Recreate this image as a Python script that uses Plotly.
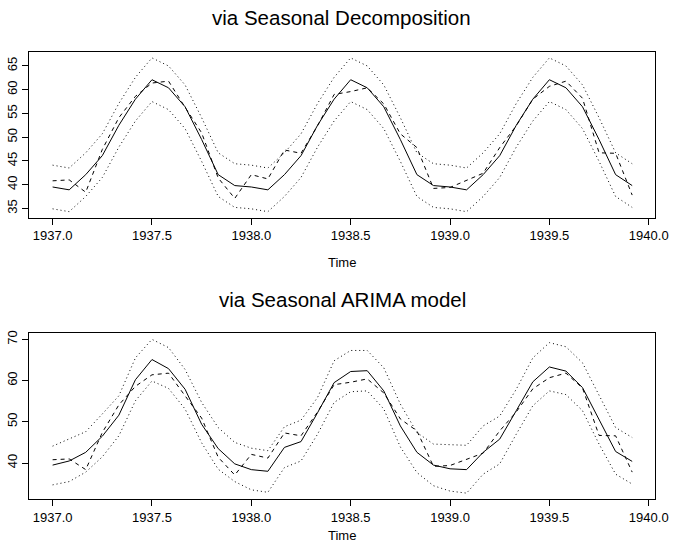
import plotly.graph_objects as go

years = [1937, 1938, 1939]
months = list(range(12))
time = [y + m / 12 for y in years for m in months]

# observed nottem temperatures 1937-1939 (dashed)
observed = [40.8, 41.0, 38.4, 47.4, 54.1, 58.6, 61.4, 61.8, 56.3, 50.9, 41.4, 37.1,
            42.1, 41.2, 47.3, 46.6, 52.4, 59.0, 59.6, 60.4, 57.0, 50.7, 47.8, 39.2,
            39.4, 40.9, 42.4, 47.8, 52.4, 58.0, 60.7, 61.8, 58.2, 46.7, 46.6, 37.8]

# forecast via seasonal decomposition
decomp_fit = [39.5, 38.9, 42.1, 46.1, 52.5, 58.0, 62.1, 60.4, 56.4, 49.5, 42.1, 39.8,
              39.5, 38.9, 42.1, 46.1, 52.5, 58.0, 62.1, 60.4, 56.4, 49.5, 42.1, 39.8,
              39.5, 38.9, 42.1, 46.1, 52.5, 58.0, 62.1, 60.4, 56.4, 49.5, 42.1, 39.8]
decomp_upper = [44.1, 43.5, 46.7, 50.7, 57.1, 62.6, 66.7, 65.0, 61.0, 54.1, 46.7, 44.4,
                44.1, 43.5, 46.7, 50.7, 57.1, 62.6, 66.7, 65.0, 61.0, 54.1, 46.7, 44.4,
                44.1, 43.5, 46.7, 50.7, 57.1, 62.6, 66.7, 65.0, 61.0, 54.1, 46.7, 44.4]
decomp_lower = [34.9, 34.3, 37.5, 41.5, 47.9, 53.4, 57.5, 55.8, 51.8, 44.9, 37.5, 35.2,
                34.9, 34.3, 37.5, 41.5, 47.9, 53.4, 57.5, 55.8, 51.8, 44.9, 37.5, 35.2,
                34.9, 34.3, 37.5, 41.5, 47.9, 53.4, 57.5, 55.8, 51.8, 44.9, 37.5, 35.2]

# forecast via seasonal ARIMA model
arima_fit = [39.5, 40.5, 42.6, 46.5, 51.6, 60.2, 65.1, 62.9, 57.9, 49.4, 43.5, 39.8,
             38.4, 38.0, 43.8, 45.2, 52.2, 59.5, 62.2, 62.4, 57.5, 49.0, 42.6, 39.5,
             38.6, 38.4, 42.6, 45.8, 52.7, 59.7, 63.3, 62.3, 58.3, 50.6, 42.8, 40.4]
arima_upper = [44.1, 45.8, 47.6, 51.9, 56.3, 65.5, 70.0, 68.0, 62.7, 54.7, 48.6, 45.0,
               43.6, 43.0, 48.8, 50.4, 55.9, 64.8, 67.3, 67.3, 63.1, 54.3, 47.4, 44.6,
               44.5, 44.3, 49.0, 51.4, 57.9, 65.5, 69.2, 68.2, 64.3, 56.3, 48.6, 46.2]
arima_lower = [34.7, 35.5, 37.8, 41.5, 46.6, 55.1, 59.9, 58.1, 53.1, 44.9, 38.5, 35.5,
               33.5, 32.9, 38.9, 40.5, 47.0, 54.7, 57.3, 57.5, 53.1, 43.9, 37.7, 34.5,
               33.2, 32.7, 37.3, 39.8, 47.0, 53.9, 57.5, 56.6, 52.7, 44.6, 37.3, 34.9]

x_ticks = [1937.0, 1937.5, 1938.0, 1938.5, 1939.0, 1939.5, 1940.0]
x_ticklabels = ["1937.0", "1937.5", "1938.0", "1938.5", "1939.0", "1939.5", "1940.0"]
y1_ticks = [35, 40, 45, 50, 55, 60, 65]
y2_ticks = [40, 50, 60, 70]

titles = ["via Seasonal Decomposition", "via Seasonal ARIMA model"]

W, H = 687, 552
FONT = "Liberation Sans, Arial, Helvetica, sans-serif"


def rrange(vals):
    lo, hi = min(vals), max(vals)
    r = hi - lo
    return [lo - 0.04 * r, hi + 0.04 * r]


fig = go.Figure()

panels = [
    (decomp_fit, decomp_upper, decomp_lower, "x", "y"),
    (arima_fit, arima_upper, arima_lower, "x2", "y2"),
]

for fit, up, lo, xa, ya in panels:
    fig.add_trace(go.Scatter(x=time, y=fit, mode="lines", xaxis=xa, yaxis=ya,
                             line=dict(color="black", width=1), showlegend=False))
    fig.add_trace(go.Scatter(x=time, y=observed, mode="lines", xaxis=xa, yaxis=ya,
                             line=dict(color="black", width=1, dash="4px,4px"), showlegend=False))
    fig.add_trace(go.Scatter(x=time, y=up, mode="lines", xaxis=xa, yaxis=ya,
                             line=dict(color="black", width=1, dash="1px,3px"), showlegend=False))
    fig.add_trace(go.Scatter(x=time, y=lo, mode="lines", xaxis=xa, yaxis=ya,
                             line=dict(color="black", width=1, dash="1px,3px"), showlegend=False))

xr = rrange(time)
y1r = rrange(decomp_fit + decomp_upper + decomp_lower + observed)
y2r = rrange(arima_fit + arima_upper + arima_lower + observed)

xdom = [30 / W, 668 / W]
y1dom = [(H - 216) / H, (H - 49) / H]
y2dom = [(H - 499) / H, (H - 332) / H]

axis_common = dict(showgrid=False, zeroline=False, showline=True, linecolor="black",
                   linewidth=1, mirror=True, ticks="outside", ticklen=6, tickwidth=1,
                   tickcolor="black", tickfont=dict(family=FONT, size=13, color="black"))

fig.update_layout(
    width=W, height=H,
    margin=dict(l=0, r=0, t=0, b=0),
    paper_bgcolor="white", plot_bgcolor="white",
    xaxis=dict(domain=xdom, range=xr, anchor="y", tickvals=x_ticks, ticktext=x_ticklabels,
               **axis_common),
    yaxis=dict(domain=y1dom, range=y1r, anchor="x", tickvals=y1_ticks, tickangle=-90,
               **axis_common),
    xaxis2=dict(domain=xdom, range=xr, anchor="y2", tickvals=x_ticks, ticktext=x_ticklabels,
                **axis_common),
    yaxis2=dict(domain=y2dom, range=y2r, anchor="x2", tickvals=y2_ticks, tickangle=-90,
                **axis_common),
)

ann_font = dict(family=FONT, color="black")
fig.add_annotation(text=titles[0], x=348 / W, y=(H - 15) / H, xref="paper", yref="paper",
                   showarrow=False, xanchor="center", yanchor="middle",
                   font=dict(size=20.5, **ann_font))
fig.add_annotation(text=titles[1], x=349 / W, y=(H - 298.5) / H, xref="paper", yref="paper",
                   showarrow=False, xanchor="center", yanchor="middle",
                   font=dict(size=20.5, **ann_font))
fig.add_annotation(text="Time", x=349 / W, y=(H - 260.5) / H, xref="paper", yref="paper",
                   showarrow=False, xanchor="center", yanchor="middle",
                   font=dict(size=13, **ann_font))
fig.add_annotation(text="Time", x=349 / W, y=(H - 535) / H, xref="paper", yref="paper",
                   showarrow=False, xanchor="center", yanchor="middle",
                   font=dict(size=13, **ann_font))

fig.write_html("out.html", config={"displayModeBar": False},
               post_script="document.body.style.margin='0';document.body.style.overflow='hidden';")
